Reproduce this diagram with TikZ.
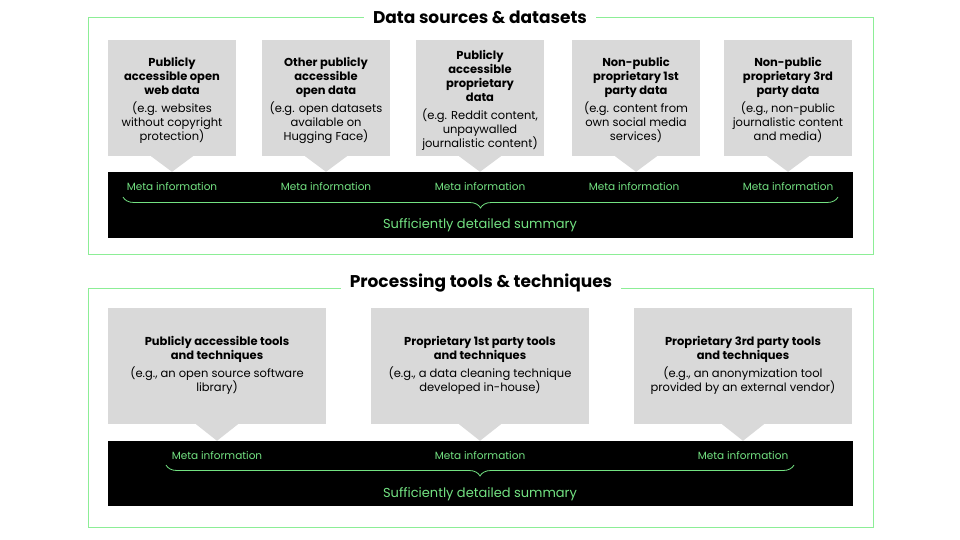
\documentclass[tikz,border=0pt]{standalone}
\usepackage{fontspec}
\setmainfont{Poppins}
\usetikzlibrary{decorations.pathreplacing}
\definecolor{frameg}{RGB}{140,238,150}
\definecolor{textg}{RGB}{115,226,130}
\definecolor{boxg}{RGB}{217,217,217}
\newcommand{\hb}[1]{\textbf{#1}}
\tikzset{
  frame/.style={draw=frameg, line width=0.8pt},
  ttl/.style={fill=white, inner xsep=9pt, font=\fontsize{17}{20}\selectfont\bfseries},
  card/.style={fill=boxg, minimum height=116pt, inner sep=0pt},
  cardtext/.style={align=center, inner sep=0pt, font=\fontsize{11.5}{14}\selectfont},
  card1/.style={card, minimum width=128pt},
  card2/.style={card, minimum width=218pt},
  bar/.style={fill=black, inner sep=0pt},
  meta/.style={text=textg, font=\fontsize{10.5}{12}\selectfont},
  summ/.style={text=textg, font=\fontsize{13}{15}\selectfont},
  brc/.style={draw=textg, line width=0.8pt, decorate,
     decoration={brace, mirror, amplitude=11pt}},
  pointer/.style={fill=boxg},
}
\begin{document}
\begin{tikzpicture}[x=1pt,y=-1pt]
\useasboundingbox (0,0) rectangle (960,540);
% ---------- top panel ----------
\draw[frame] (88,17) rectangle (873,254);
\node[ttl] (t1) at (480,17) {Data sources \& datasets};
\node[bar, minimum width=745pt, minimum height=66pt] (bar1) at (480.5,205) {};
\foreach \n/\x in {a1/172,a2/326,a3/480,a4/636,a5/788}{
  \node[card1] (\n) at (\x,98) {};
  \fill[pointer] ([xshift=-21pt]\n.south) -- ([xshift=21pt]\n.south) -- (\n.south |- bar1.north) -- cycle;
}
\node[cardtext] (a1t) at ([yshift=-2pt]a1.center) {\hb{Publicly}\\\hb{accessible open}\\\hb{web data}\\[4pt](e.g. websites\\without copyright\\protection)};
\node[cardtext] (a2t) at ([yshift=-2pt]a2.center) {\hb{Other publicly}\\\hb{accessible}\\\hb{open data}\\[4pt](e.g. open datasets\\available on\\Hugging Face)};
\node[cardtext] (a3t) at ([yshift=-2pt]a3.center) {\hb{Publicly}\\\hb{accessible}\\\hb{proprietary}\\\hb{data}\\[4pt](e.g. Reddit content,\\unpaywalled\\journalistic content)};
\node[cardtext] (a4t) at ([yshift=-2pt]a4.center) {\hb{Non-public}\\\hb{proprietary 1st}\\\hb{party data}\\[4pt](e.g. content from\\own social media\\services)};
\node[cardtext] (a5t) at ([yshift=-2pt]a5.center) {\hb{Non-public}\\\hb{proprietary 3rd}\\\hb{party data}\\[4pt](e.g., non-public\\journalistic content\\and media)};
\foreach \n/\x in {m1/172,m2/326,m3/480,m4/634,m5/788}{
  \node[meta] (\n) at (\x,187) {Meta information};
}
\coordinate (bl1) at (123,197);
\coordinate (br1) at (838,197);
\draw[brc] (bl1) -- (br1);
\node[summ] (s1) at (480,225) {Sufficiently detailed summary};
% ---------- bottom panel ----------
\draw[frame] (88,288) rectangle (873,527);
\node[ttl] (t2) at (481,283) {Processing tools \& techniques};
\node[bar, minimum width=745pt, minimum height=65pt] (bar2) at (480.5,473.5) {};
\foreach \n/\x in {c1/217,c2/480,c3/743}{
  \node[card2] (\n) at (\x,366) {};
  \fill[pointer] ([xshift=-21pt]\n.south) -- ([xshift=21pt]\n.south) -- (\n.south |- bar2.north) -- cycle;
}
\node[cardtext] (c1t) at ([yshift=1pt]c1.center) {\hb{Publicly accessible tools}\\\hb{and techniques}\\[4pt](e.g., an open source software\\library)};
\node[cardtext] (c2t) at ([yshift=1pt]c2.center) {\hb{Proprietary 1st party tools}\\\hb{and techniques}\\[4pt](e.g., a data cleaning technique\\developed in-house)};
\node[cardtext] (c3t) at ([yshift=1pt]c3.center) {\hb{Proprietary 3rd party tools}\\\hb{and techniques}\\[4pt](e.g., an anonymization tool\\provided by an external vendor)};
\foreach \n/\x in {n1/217,n2/480,n3/743}{
  \node[meta] (\n) at (\x,456) {Meta information};
}
\coordinate (bl2) at (166,465);
\coordinate (br2) at (794,465);
\draw[brc] (bl2) -- (br2);
\node[summ] (s2) at (480,494) {Sufficiently detailed summary};
\end{tikzpicture}
\end{document}
